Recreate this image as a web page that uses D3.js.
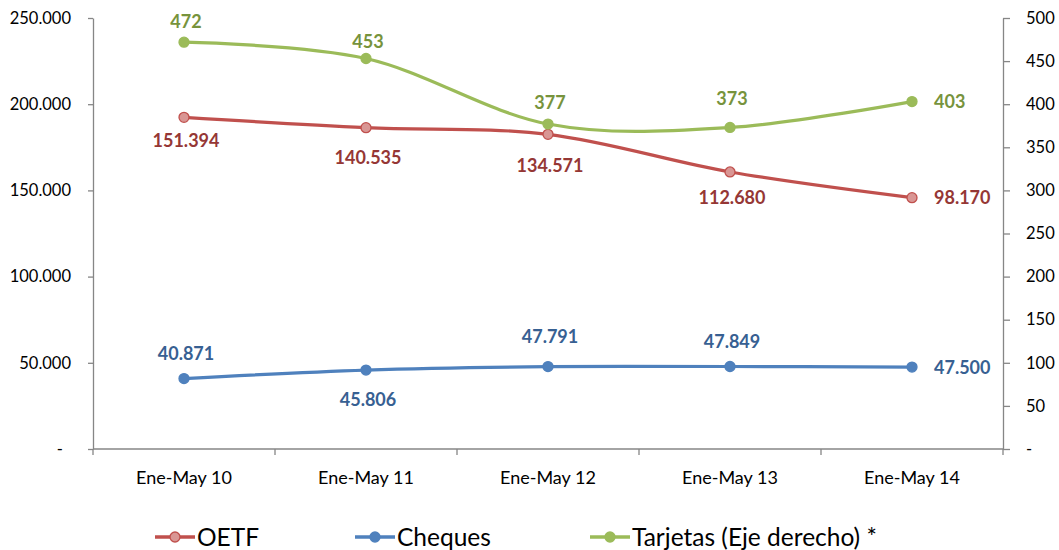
<!DOCTYPE html>
<html>
<head>
<meta charset="utf-8">
<script src="https://cdn.jsdelivr.net/npm/d3@7"></script>
<style>
  body { margin: 0; background: #fff; }
  svg text { font-family: Lato, "Open Sans", sans-serif; }
</style>
</head>
<body>
<svg id="chart" width="1059" height="550"></svg>
<script>
// categories and series
var categories = ["Ene-May 10", "Ene-May 11", "Ene-May 12", "Ene-May 13", "Ene-May 14"];
var oetfPlot = [192400, 186400, 182500, 160700, 145800];   // where the line sits on the left axis
var oetfLabels = ["151.394", "140.535", "134.571", "112.680", "98.170"];
var cheques = [40871, 45806, 47791, 47849, 47500];
var tarjetas = [472, 453, 377, 373, 403];
var leftTicks = [0, 50000, 100000, 150000, 200000, 250000];
var rightTicks = [0, 50, 100, 150, 200, 250, 300, 350, 400, 450, 500];

var svg = d3.select("#chart"),
    margin = {left: 93, right: 56, top: 18, bottom: 101},
    width = +svg.attr("width") - margin.left - margin.right,
    height = +svg.attr("height") - margin.top - margin.bottom;

var axisColor = "#868686";
var fmt = function (v) { return v === 0 ? "-" : d3.format(",")(v).replace(/,/g, "."); };

let x = d3.scaleBand().domain(categories).range([margin.left, margin.left + width]).padding(0);
let yL = d3.scaleLinear().domain([0, 250000]).range([margin.top + height, margin.top]);
let yR = d3.scaleLinear().domain([0, 500]).range([margin.top + height, margin.top]);
let cx = d => x(d) + x.bandwidth() / 2;

// left axis
var gL = svg.append("g").attr("transform", "translate(" + margin.left + ",0)")
    .call(d3.axisLeft(yL).tickValues(leftTicks).tickFormat(fmt).tickSize(5).tickPadding(17).tickSizeOuter(0));
gL.selectAll("text").style("font-size", "16.5px").attr("fill", "#000")
    .filter(d => d === 0).attr("x", -30);

// right axis
var gR = svg.append("g").attr("transform", "translate(" + (margin.left + width) + ",0)")
    .call(d3.axisRight(yR).tickValues(rightTicks).tickFormat(fmt).tickSize(7).tickPadding(16).tickSizeOuter(0));
gR.selectAll("text").style("font-size", "16.5px").attr("fill", "#000");

// bottom axis: line, ticks on band edges, labels in the middle
var gB = svg.append("g");
gB.append("line")
    .attr("x1", margin.left).attr("x2", margin.left + width)
    .attr("y1", yL(0)).attr("y2", yL(0));
gB.selectAll(".tk").data(categories.concat(["end"])).enter().append("line")
    .attr("class", "tk")
    .attr("x1", (d, i) => margin.left + i * x.bandwidth())
    .attr("x2", (d, i) => margin.left + i * x.bandwidth())
    .attr("y1", yL(0)).attr("y2", yL(0) + 6);
gB.selectAll("text").data(categories).enter().append("text")
    .attr("x", d => cx(d)).attr("y", yL(0) + 29)
    .attr("dy", "0.36em")
    .attr("text-anchor", "middle")
    .style("font-size", "18px")
    .text(d => d);

[gL, gR].forEach(g => {
    g.select(".domain").attr("stroke", axisColor).attr("stroke-width", 1.3);
    g.selectAll(".tick line").attr("stroke", axisColor).attr("stroke-width", 1.3);
});
gB.selectAll("line").attr("stroke", axisColor).attr("stroke-width", 1.3);

// series
var series = [
    {name: "OETF", values: oetfPlot, labels: oetfLabels, scale: yL,
     line: "#C0504D", fill: "#D99694", text: "#953735",
     place: ["b", "b", "b", "b", "r"], off: [23, 30, 31, 26, 0]},
    {name: "Cheques", values: cheques, labels: cheques.map(fmt), scale: yL,
     line: "#4F81BD", fill: "#4F81BD", text: "#376092",
     place: ["a", "b", "a", "a", "r"], off: [25, 29, 30, 25, 0]},
    {name: "Tarjetas (Eje derecho) *", values: tarjetas, labels: tarjetas.map(String), scale: yR,
     line: "#9BBB59", fill: "#9BBB59", text: "#77933C",
     place: ["a", "a", "a", "a", "r"], off: [21, 17, 22, 29, 0]}
];

var lineGen = d3.line().curve(d3.curveCardinal.tension(0));

series.forEach(function (s) {
    var pts = s.values.map((v, i) => [cx(categories[i]), s.scale(v)]);
    var g = svg.append("g");
    g.append("path")
        .attr("d", lineGen(pts))
        .attr("fill", "none")
        .attr("stroke", s.line)
        .attr("stroke-width", 3.2);
    g.selectAll("circle").data(pts).enter().append("circle")
        .attr("cx", d => d[0]).attr("cy", d => d[1]).attr("r", 5)
        .attr("fill", s.fill).attr("stroke", s.line).attr("stroke-width", 1.3);
    g.selectAll("text").data(pts).enter().append("text")
        .attr("x", (d, i) => s.place[i] === "r" ? d[0] + 22 : d[0] + 2)
        .attr("y", (d, i) => s.place[i] === "a" ? d[1] - s.off[i] : s.place[i] === "b" ? d[1] + s.off[i] : d[1])
        .attr("dy", "0.36em")
        .attr("text-anchor", (d, i) => s.place[i] === "r" ? "start" : "middle")
        .attr("fill", s.text)
        .style("font-size", "18px")
        .style("font-weight", "bold")
        .text((d, i) => s.labels[i]);
});

// legend
var legendX = [155, 355, 590];
var leg = svg.append("g").attr("transform", "translate(0,537)");
series.forEach(function (s, i) {
    var lg = leg.append("g").attr("transform", "translate(" + legendX[i] + ",0)");
    lg.append("line").attr("x1", 0).attr("x2", 40).attr("y1", 0).attr("y2", 0)
        .attr("stroke", s.line).attr("stroke-width", 3.5);
    lg.append("circle").attr("cx", 20).attr("cy", 0).attr("r", 5)
        .attr("fill", s.fill).attr("stroke", s.line).attr("stroke-width", 1.3);
    lg.append("text").attr("x", 42).attr("y", 0).attr("dy", "0.36em")
        .style("font-size", "24.5px").attr("fill", "#000")
        .text(s.name);
});
</script>
</body>
</html>
